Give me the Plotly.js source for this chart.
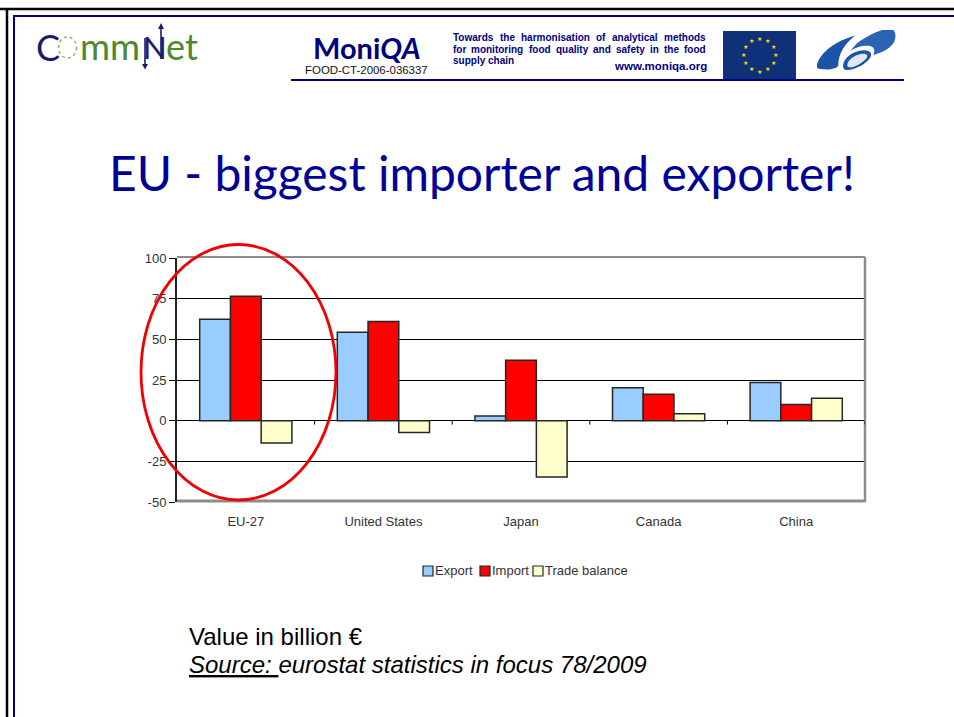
<!DOCTYPE html>
<html>
<head>
<meta charset="utf-8">
<script src="https://cdn.plot.ly/plotly-3.0.1.min.js"></script>
<style>html,body{margin:0;padding:0;background:#fff;overflow:hidden}#chart{width:954px;height:717px}</style>
</head>
<body>
<div id="chart"></div>
<script>
const categories = ["EU-27", "United States", "Japan", "Canada", "China"];
const exportValues = [62.4, 54.4, 2.8, 20.2, 23.5];
const importValues = [76.5, 61, 37.2, 16.3, 10];
const balanceValues = [-13.8, -7.3, -34.7, 4.2, 13.8];
const seriesNames = ["Export", "Import", "Trade balance"];
const seriesColors = ["#99ccff", "#ff0000", "#ffffcc"];
const yTicks = [-50, -25, 0, 25, 50, 75, 100];
const yTickLabels = ["-50", "-25", "0", "25", "50", "75", "100"];

const W = 954, H = 717, L = 177, R = 865, T = 258, B = 502;
const NAVY = "#000080", ARIAL = "Liberation Sans, Arial, sans-serif", HUM = "Lato, sans-serif";
const X = p => (p - L) / (R - L);
const Y = p => (B - p) / (B - T);

function label(text, x, y, size, color, opts) {
  return Object.assign({
    text, x: X(x - 1), y: Y(y), xref: "paper", yref: "paper", showarrow: false,
    xanchor: "left", yanchor: "middle", align: "left", borderpad: 0,
    font: { family: ARIAL, size, color }
  }, opts || {});
}
function line(x0, y0, x1, y1, color, width) {
  return { type: "line", xref: "paper", yref: "paper", x0: X(x0), x1: X(x1), y0: Y(y0), y1: Y(y1),
           line: { color, width }, layer: "above" };
}
function tri(x0, y0, x1, y1, x2, y2, color) {
  return { type: "path", xref: "paper", yref: "paper", fillcolor: color, line: { width: 0 }, layer: "above",
    path: `M${X(x0)},${Y(y0)}L${X(x1)},${Y(y1)}L${X(x2)},${Y(y2)}Z` };
}

/* justified header lines: words are set at even gaps between two edges */
const HEAD = 10;
const headerLines = [
  { words: "Towards the harmonisation of analytical methods", y: 37.5, right: 706 },
  { words: "for monitoring food quality and safety in the food", y: 49, right: 706 },
  { words: "supply chain", y: 60.5, right: null }
];
const cv = document.createElement("canvas").getContext("2d");
cv.font = "bold " + HEAD + "px 'Liberation Sans'";
const headerAnn = [];
headerLines.forEach(h => {
  if (h.right === null) { headerAnn.push(label("<b>" + h.words + "</b>", 453, h.y, HEAD, NAVY)); return; }
  const ws = h.words.split(" ");
  const total = ws.reduce((s, w) => s + cv.measureText(w).width, 0);
  const gap = (h.right - 453 - total) / (ws.length - 1);
  let x = 453;
  ws.forEach(w => { headerAnn.push(label("<b>" + w + "</b>", x, h.y, HEAD, NAVY)); x += cv.measureText(w).width + gap; });
});

/* EU flag and FP6 swoosh */
let stars = "";
for (let i = 0; i < 12; i++) {
  const a = i * Math.PI / 6;
  const cx = 36.3 + 16 * Math.sin(a), cy = 24 - 16.5 * Math.cos(a);
  stars += `<text x="${cx}" y="${cy + 2.2}" font-size="6" text-anchor="middle" fill="#ffdd00">★</text>`;
}
const flagSvg = `<svg xmlns="http://www.w3.org/2000/svg" width="73" height="48" viewBox="0 0 73 48"><rect width="73" height="48" fill="#0f317a"/>${stars}</svg>`;
const fp6Svg = `<svg xmlns="http://www.w3.org/2000/svg" width="80" height="44" viewBox="0 0 80 44"><g transform="translate(-7,-5) scale(.3333)">
<path d="M20,125 C25,85 80,45 135,32 C105,55 85,85 85,120 C85,130 60,135 40,133 C28,132 20,130 20,125Z" fill="#1c54a8"/>
<path d="M150,48 C185,25 225,8 245,12 C258,16 260,40 250,55 C235,75 210,85 190,90 C198,72 190,62 170,62 C150,62 135,68 122,78 C128,68 138,57 150,48Z" fill="#2a62b4"/>
<path d="M100,128 C95,105 125,78 160,76 C185,75 190,90 175,105 C160,122 130,135 112,135 C105,135 101,132 100,128Z" fill="#1c54a8"/>
<path d="M112,122 C110,108 130,90 156,86 C172,85 176,92 168,101 C155,115 135,126 122,127 C116,127 113,125 112,122Z" fill="#dfe9f6"/>
</g></svg>`;
const svgUri = s => "data:image/svg+xml;charset=utf-8," + encodeURIComponent(s);

const traces = [exportValues, importValues, balanceValues].map((vals, i) => ({
  type: "bar", name: seriesNames[i], x: categories, y: vals,
  marker: { color: seriesColors[i], line: { color: "#262626", width: 1.5 } },
  hoverinfo: "x+y+name"
}));

/* category boundary tick marks along the zero line */
const zeroTicks = categories.map((c, i) => ({
  type: "line", xref: "x", yref: "y", x0: i + 0.5, x1: i + 0.5, y0: 0, y1: -2.4,
  line: { color: "#000", width: 1 }, layer: "above"
}));

/* legend key, placed as on the slide */
const legendX = [423, 480, 533], legendTextX = [435, 492, 545], LEGY = 571;
const legendShapes = seriesNames.map((n, i) => ({
  type: "rect", xref: "paper", yref: "paper",
  x0: X(legendX[i]), x1: X(legendX[i] + 10), y0: Y(LEGY - 5), y1: Y(LEGY + 5),
  fillcolor: seriesColors[i], line: { color: "#262626", width: 1.2 }, layer: "above"
}));
const legendLabels = seriesNames.map((n, i) => label(n, legendTextX[i], LEGY - 0.5, 13, "#333333"));

const GREEN = "#4c8a2e", LOGO = "#1b1b6b";
const shapes = [
  /* slide frame */
  line(0, 9, 954, 9, "#000", 2.5), line(7, 8, 7, 717, "#000", 2.5),
  line(14, 16, 954, 16, NAVY, 2), line(14, 15, 14, 717, NAVY, 2),
  line(291, 80, 904, 80, NAVY, 2),
  /* plot box, grey on three sides */
  line(L, T - 1, R, T - 1, "#8c8c8c", 2), line(R, T - 1, R, B, "#8c8c8c", 2.5), line(L, B - 1, R, B - 1, "#8c8c8c", 3),
  /* CommNet logo marks */
  { type: "circle", xref: "paper", yref: "paper", x0: X(58.5), x1: X(76.5), y0: Y(37), y1: Y(58),
    line: { color: "#9db56a", width: 1.6, dash: "dot" }, layer: "above" },
  line(145, 38, 145, 66, LOGO, 1.6), tri(142, 64, 148, 64, 145, 69.5, LOGO),
  line(161, 27, 161, 59, LOGO, 1.6), tri(158, 29, 164, 29, 161, 23, LOGO),
  /* highlight ellipse */
  { type: "circle", xref: "paper", yref: "paper", x0: X(141), x1: X(336), y0: Y(244.5), y1: Y(500),
    line: { color: "#f00000", width: 2.8 }, layer: "above" }
].concat(zeroTicks, legendShapes);

const annotations = [
  label("C", 36, 47, 36, LOGO, { font: { family: HUM, size: 36, color: LOGO } }),
  label("mm", 80, 46, 36.5, GREEN, { font: { family: HUM, size: 36.5, color: GREEN } }),
  label("N", 143, 47, 31, LOGO, { font: { family: HUM, size: 31, color: LOGO } }),
  label("et", 166, 46, 36, GREEN, { font: { family: HUM, size: 36, color: GREEN } }),
  label("<b>Moni<i>QA</i></b>", 313, 47, 29, NAVY, { font: { family: HUM, size: 29, color: NAVY } }),
  label("FOOD-CT-2006-036337", 305, 70, 11.45, "#111111"),
  label("<b>www.moniqa.org</b>", 614, 66, 11.5, NAVY),
  label("EU - biggest importer and exporter!", 482.5, 172, 48, "#000099",
        { xanchor: "center", align: "center", font: { family: HUM, size: 48, color: "#000099" } }),
  label("Value in billion €", 189, 636, 24, "#000000"),
  label("<i><u>Source: </u>eurostat statistics in focus 78/2009</i>", 189, 664, 24, "#000000")
].concat(headerAnn, legendLabels);

const layout = {
  width: W, height: H, autosize: false,
  margin: { l: L, r: W - R, t: T, b: H - B, pad: 0 },
  paper_bgcolor: "#ffffff", plot_bgcolor: "#ffffff",
  showlegend: false, barmode: "group", bargap: 0.33, bargroupgap: 0,
  font: { family: ARIAL, size: 12.6, color: "#333333" },
  xaxis: { type: "category", range: [-0.5, 4.5], fixedrange: true, ticks: "", showgrid: false,
           showline: false, zeroline: false, ticklabelstandoff: 10,
           tickfont: { family: ARIAL, size: 13, color: "#333333" } },
  yaxis: { range: [-50, 100], tickmode: "array", tickvals: yTicks, ticktext: yTickLabels,
           fixedrange: true, ticks: "outside", ticklen: 6, tickwidth: 1,
           tickcolor: "#000", showgrid: true, gridcolor: "#000000", gridwidth: 1,
           zeroline: true, zerolinecolor: "#000000", zerolinewidth: 1,
           showline: true, linecolor: "#222222", linewidth: 2,
           tickfont: { family: ARIAL, size: 13, color: "#333333" } },
  shapes, annotations,
  images: [
    { source: svgUri(flagSvg), xref: "paper", yref: "paper", x: X(723), y: Y(31), sizex: 73 / (R - L), sizey: 48 / (B - T),
      xanchor: "left", yanchor: "top", sizing: "stretch", layer: "above" },
    { source: svgUri(fp6Svg), xref: "paper", yref: "paper", x: X(817), y: Y(30), sizex: 80 / (R - L), sizey: 44 / (B - T),
      xanchor: "left", yanchor: "top", sizing: "stretch", layer: "above" }
  ]
};
Plotly.newPlot("chart", traces, layout, { displayModeBar: false, staticPlot: true });
</script>
</body>
</html>
